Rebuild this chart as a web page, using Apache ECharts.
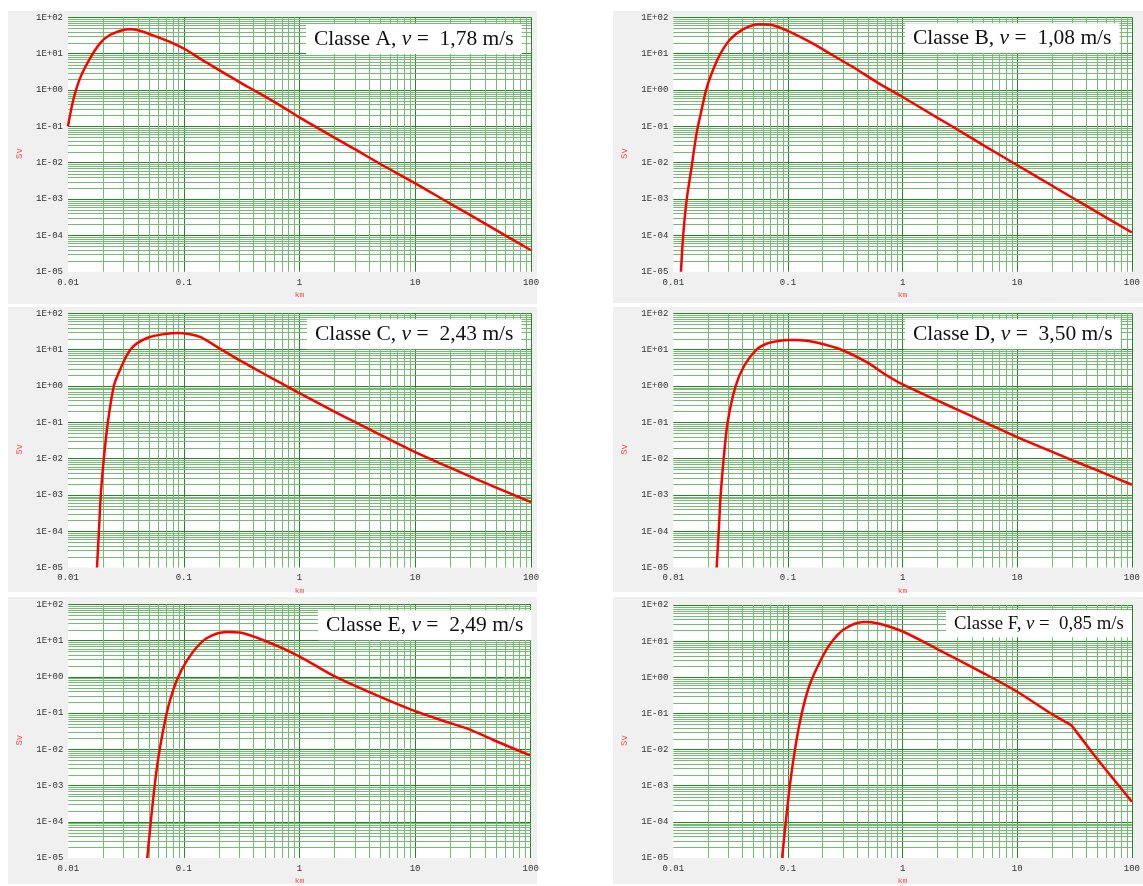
<!DOCTYPE html>
<html>
<head>
<meta charset="utf-8">
<script src="https://cdn.jsdelivr.net/npm/echarts@6/dist/echarts.min.js"></script>
<style>
  html, body { margin: 0; padding: 0; background: #ffffff; }
  #chart { width: 1143px; height: 886px; }
</style>
</head>
<body>
<div id="chart"></div>
<script>
// Stability classes and wind speeds shown in each panel
const classes = ['A', 'B', 'C', 'D', 'E', 'F'];
const windSpeeds = ['1,78', '1,08', '2,43', '3,50', '2,49', '0,85'];

// Tick labels (decades)
const xTickLabels = ['0.01', '0.1', '1', '10', '100'];
const yTickLabels = ['1E-05', '1E-04', '1E-03', '1E-02', '1E-01', '1E+00', '1E+01', '1E+02'];

// Dose (Sv) versus downwind distance (km), one pair of arrays per class
const distA = [0.01, 0.0111, 0.0127, 0.0155, 0.0189, 0.023, 0.030, 0.0342, 0.0418, 0.0582, 0.081, 0.1055, 0.137, 0.191, 0.30, 0.452, 0.673, 1, 2, 3, 5, 10, 20, 30, 50, 100];
const doseA = [0.1, 0.53, 2.09, 7.4, 19.2, 32.5, 44.7, 46.7, 42.7, 29.3, 19.2, 12.6, 7.4, 3.94, 1.68, 0.806, 0.384, 0.176, 0.049, 0.0236, 0.0092, 0.0027, 0.00075, 0.00036, 0.000139, 0.000039];

const distB = [0.01166, 0.0122, 0.01307, 0.01445, 0.01596, 0.01763, 0.0195, 0.0222, 0.0254, 0.031, 0.0405, 0.0565, 0.0738, 0.1029, 0.164, 0.244, 0.365, 0.621, 1, 2, 3, 5, 10, 20, 30, 50, 100];
const doseB = [0.00001, 0.0001, 0.00093, 0.0077, 0.064, 0.279, 1.11, 3.53, 9.15, 23.7, 46.7, 64.1, 60.2, 40.1, 19.2, 9.15, 4.35, 1.52, 0.64, 0.174, 0.082, 0.031, 0.0085, 0.00236, 0.0011, 0.00043, 0.00012];

const distC = [0.0178, 0.0185, 0.0192, 0.0204, 0.0221, 0.0249, 0.0281, 0.0323, 0.0378, 0.0509, 0.0686, 0.0887, 0.11, 0.14, 0.2, 0.3, 0.5, 0.7, 1, 2, 3, 5, 10, 20, 30, 50, 100];
const doseC = [0.00001, 0.0001, 0.001, 0.01, 0.1, 1, 2.74, 7.1, 13.4, 22.2, 26.9, 28.6, 27, 22, 11.2, 5.2, 2.1, 1.17, 0.63, 0.197, 0.102, 0.045, 0.0151, 0.0056, 0.0032, 0.00159, 0.00063];

const distD = [0.0239, 0.0249, 0.0259, 0.0275, 0.0298, 0.035, 0.0419, 0.0532, 0.065, 0.08, 0.1, 0.12, 0.16, 0.2, 0.3, 0.5, 0.7, 1, 2, 3, 5, 10, 20, 30, 50, 100];
const doseD = [0.00001, 0.0001, 0.001, 0.01, 0.1, 1, 3.77, 10, 14.5, 17, 18.3, 18.5, 16.8, 14.3, 9.6, 4.3, 2.1, 1.1, 0.40, 0.223, 0.106, 0.039, 0.0155, 0.0091, 0.0047, 0.0019];

const distE = [0.0482, 0.0581, 0.070, 0.081, 0.0955, 0.1205, 0.157, 0.234, 0.305, 0.52, 0.977, 1.96, 4.07, 9.6, 19.4, 29.8, 47.5, 98.7];
const doseE = [0.00001, 0.00275, 0.081, 0.44, 1.55, 5.0, 11.6, 17.3, 16.6, 9.4, 3.8, 1.07, 0.37, 0.118, 0.055, 0.035, 0.018, 0.0068];

const distF = [0.0889, 0.103, 0.115, 0.130, 0.153, 0.194, 0.236, 0.308, 0.46, 0.60, 0.99, 1.99, 5.06, 9.84, 19.2, 26, 29.6, 33, 48.7, 100];
const doseF = [0.00001, 0.00081, 0.0098, 0.081, 0.565, 3.06, 8.8, 21.4, 34, 31.3, 18.8, 6.15, 1.31, 0.41, 0.104, 0.0596, 0.047, 0.0304, 0.006, 0.00036];

const distances = [distA, distB, distC, distD, distE, distF];
const doses = [doseA, doseB, doseC, doseD, doseE, doseF];

// Panel geometry: plot rectangle, grey frame, caption box
const panels = [
  { plot: [68, 17.3, 463, 254.4],     frame: [8, 11, 529, 293],   cap: [306, 22.7], fs: 21.5 },
  { plot: [673.3, 17.3, 461, 254.4],  frame: [613, 11, 530, 292], cap: [905, 22],   fs: 21.5 },
  { plot: [68, 313.3, 463, 254.2],    frame: [8, 307, 529, 285],  cap: [307, 318],  fs: 21.5 },
  { plot: [673.3, 313.3, 461, 254.2], frame: [613, 307, 530, 285], cap: [905, 318], fs: 21.5 },
  { plot: [68.3, 604.3, 462.4, 254.4], frame: [8, 597, 529, 287], cap: [318, 609],  fs: 21.5 },
  { plot: [673.3, 605, 461, 254.3],   frame: [613, 597, 530, 287], cap: [946, 609], fs: 18.8 }
];

const GREEN_MAJOR = '#1e8c1e';
const GREEN_MINOR = '#74bb74';

// Minor log grid values (2..9 within each decade)
function minorValues(fromExp, toExp) {
  const out = [];
  for (let e = fromExp; e < toExp; e++) {
    for (let m = 2; m <= 9; m++) out.push(m * Math.pow(10, e));
  }
  return out;
}
const xMinor = minorValues(-2, 2);
const yMinor = minorValues(-5, 2);

// Draws one grid line per data item across the whole plot area
function gridLineRenderer(vertical) {
  return function (params, api) {
    const v = api.value(vertical ? 0 : 1);
    let p1, p2;
    if (vertical) {
      p1 = api.coord([v, 1e-5]);
      p2 = api.coord([v, 100]);
      const x = Math.round(p1[0]) + 0.5;
      return { type: 'line', silent: true, shape: { x1: x, y1: p1[1], x2: x, y2: p2[1] }, style: { stroke: GREEN_MINOR, lineWidth: 1 } };
    }
    p1 = api.coord([0.01, v]);
    p2 = api.coord([100, v]);
    const y = Math.round(p1[1]) + 0.5;
    return { type: 'line', silent: true, shape: { x1: p1[0], y1: y, x2: p2[0], y2: y }, style: { stroke: GREEN_MINOR, lineWidth: 1 } };
  };
}

const grids = [], xAxes = [], yAxes = [], series = [], titles = [], graphics = [];

panels.forEach((p, i) => {
  const [l, t, w, h] = p.plot;
  graphics.push({
    type: 'rect', z: -10, silent: true,
    shape: { x: p.frame[0], y: p.frame[1], width: p.frame[2], height: p.frame[3] },
    style: { fill: '#f0f0f0' }
  });
  grids.push({ left: l, top: t, width: w, height: h, show: true, backgroundColor: '#ffffff', borderWidth: 0, containLabel: false });
  xAxes.push({
    type: 'log', logBase: 10, gridIndex: i, min: 0.01, max: 100,
    name: 'km', nameLocation: 'middle', nameGap: 19,
    nameTextStyle: { color: '#ff4a4a', fontSize: 8, fontFamily: 'Liberation Mono' },
    axisLine: { show: false }, axisTick: { show: false },
    axisLabel: {
      margin: 6, color: '#333333', fontSize: 9, fontFamily: 'Liberation Mono',
      showMinLabel: true, showMaxLabel: true,
      formatter: v => xTickLabels[Math.round(Math.log10(v)) + 2]
    },
    splitLine: { show: true, showMinLine: false, lineStyle: { color: GREEN_MAJOR, width: 1 } }
  });
  yAxes.push({
    type: 'log', logBase: 10, gridIndex: i, min: 1e-5, max: 100,
    name: 'Sv', nameLocation: 'middle', nameGap: 44, nameRotate: 90,
    nameTextStyle: { color: '#ff4a4a', fontSize: 9, fontFamily: 'Liberation Mono', padding: [0, 0, 0, -18] },
    axisLine: { show: false }, axisTick: { show: false },
    axisLabel: {
      margin: 5, color: '#333333', fontSize: 9, fontFamily: 'Liberation Mono',
      showMinLabel: true, showMaxLabel: true,
      formatter: v => yTickLabels[Math.round(Math.log10(v)) + 5]
    },
    splitLine: { show: true, showMinLine: false, lineStyle: { color: GREEN_MAJOR, width: 1 } }
  });
  // minor grid: vertical and horizontal lines
  series.push({
    type: 'custom', xAxisIndex: i, yAxisIndex: i, z: 1, silent: true, animation: false,
    renderItem: gridLineRenderer(true),
    data: xMinor.map(v => [v, 1])
  });
  series.push({
    type: 'custom', xAxisIndex: i, yAxisIndex: i, z: 1, silent: true, animation: false,
    renderItem: gridLineRenderer(false),
    data: yMinor.map(v => [1, v])
  });
  series.push({
    type: 'line', xAxisIndex: i, yAxisIndex: i, z: 3,
    data: distances[i].map((d, k) => [d, doses[i][k]]),
    showSymbol: false, smooth: 0.3, clip: true,
    lineStyle: { color: '#ff0000', width: 2.5 },
    animation: false
  });
  titles.push({
    left: p.cap[0], top: p.cap[1],
    backgroundColor: '#ffffff', padding: [4, 8, 4, 8],
    text: '{t|Classe ' + classes[i] + ',}{v| v}{t| =  ' + windSpeeds[i] + ' m/s}',
    textStyle: {
      fontWeight: 'normal',
      rich: {
        t: { fontFamily: 'Liberation Serif', fontWeight: 'normal', fontSize: p.fs, color: '#111', lineHeight: p.fs * 1.15 },
        v: { fontFamily: 'Liberation Serif', fontWeight: 'normal', fontStyle: 'italic', fontSize: p.fs, color: '#111', lineHeight: p.fs * 1.15 }
      }
    }
  });
});

const chart = echarts.init(document.getElementById('chart'), null, { renderer: 'canvas' });
chart.setOption({
  animation: false,
  backgroundColor: '#ffffff',
  title: titles,
  grid: grids,
  xAxis: xAxes,
  yAxis: yAxes,
  series: series,
  graphic: graphics
});
</script>
</body>
</html>
